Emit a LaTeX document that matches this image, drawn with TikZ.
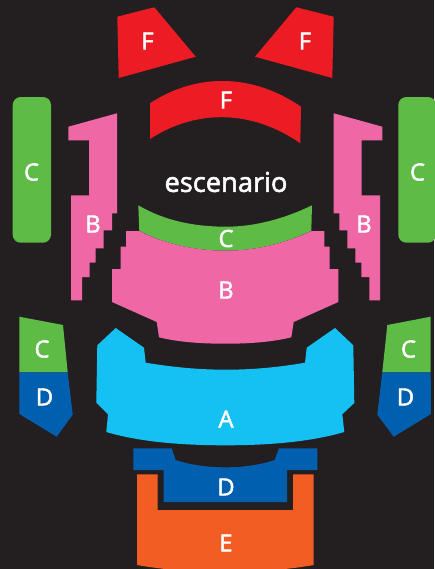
\documentclass[tikz,border=0pt]{standalone}
\usepackage{xcolor}
\usepackage{fontspec}
\setmainfont{Open Sans}[FakeBold=2]
\definecolor{hallbg}{HTML}{231F20}
\definecolor{hallred}{HTML}{ED1C24}
\definecolor{hallgreen}{HTML}{5DBB46}
\definecolor{hallpink}{HTML}{F067A6}
\definecolor{hallcyan}{HTML}{15C0F2}
\definecolor{hallblue}{HTML}{0060AF}
\definecolor{hallorange}{HTML}{F15D22}
\tikzset{
    zonelabel/.style={
        text=white,
        inner sep=0pt,
        font=\fontsize{13.5}{15}\selectfont
    },
    stagelabel/.style={
        text=white,
        inner sep=0pt,
        font=\fontsize{15.5}{17}\selectfont
    },
    zonef/.style={
        fill=hallred
    },
    zonec/.style={
        fill=hallgreen
    },
    zoneb/.style={
        fill=hallpink
    },
    zonea/.style={
        fill=hallcyan
    },
    zoned/.style={
        fill=hallblue
    },
    zonee/.style={
        fill=hallorange
    }
}

\begin{document}
\begin{tikzpicture}[x=0.02cm,y=-0.02cm]

\fill[hallbg] (0,0) rectangle (434,569);
\useasboundingbox (0,0) rectangle (434,569);

%---------------- F ----------------

\fill[zonef] (117.3,16.7)--(154.3,7.3)--(195.7,56.7)--(118.7,78)--cycle;
\fill[zonef] (296.3,7.3)--(333.7,16.7)--(332.3,78)--(255,56.7)--cycle;
\fill[zonef] (150,103.3) .. controls (196,73) and (252,73) .. (301,106.7)
    --(300.3,143.3) .. controls (252,109.5) and (196,109) .. (150,139)--cycle;

\node[zonelabel] (fleft) at (147.5,41) {F};
\node[zonelabel] (fright) at (305,41) {F};
\node[zonelabel] (fmid) at (226,100) {F};

%---------------- C ----------------

\fill[zonec,rounded corners=8*0.02cm] (12.7,97) rectangle (51,242.7);
\fill[zonec,rounded corners=8*0.02cm] (398.3,97) rectangle (436,242.7);
\fill[zonec] (138.3,205.3) .. controls (165,221) and (195,226.7) .. (226,226.7)
    .. controls (256,226.7) and (286,218) .. (312,205.3)
    --(311.3,230.7) .. controls (286,243) and (256,250.7) .. (226,250.7)
    .. controls (195,250.7) and (165,244) .. (139.3,230.7)--cycle;
\fill[zonec] (19.3,316.7)--(63,325)--(67.7,372.3)--(19.3,372.3)--cycle;
\fill[zonec] (430.7,316.7)--(387.3,325)--(382.3,372.3)--(430.7,372.3)--cycle;

\node[zonelabel] (cleft) at (31.5,172) {C};
\node[zonelabel] (cright) at (417.5,172) {C};
\node[zonelabel] (cmid) at (226,238.5) {C};
\node[zonelabel] (csideleft) at (42,349) {C};
\node[zonelabel] (csideright) at (408.5,349) {C};

%---------------- B ----------------

\fill[zoneb] (68.3,126.7)--(117,113.3)--(117,213.3)--(112,213.3)--(112,230.3)
    --(103.7,230.3)--(103.7,248.3)--(95.7,248.3)--(95.7,262.7)--(89.7,262.7)
    --(89.7,277)--(82,277)--(82,300.3)--(71,300.3)--(71,195.3)--(89,195.3)
    --(89,140.3)--(68.3,140.3)--cycle;
\fill[zoneb] (333.7,113.3)--(382.3,126.7)--(382.3,140.3)--(361.7,140.3)
    --(361.7,195.3)--(380,195.3)--(380,300.3)--(369.3,300.3)--(369.3,277)
    --(361.3,277)--(361.3,262.7)--(355.3,262.7)--(355.3,248.3)--(347.3,248.3)
    --(347.3,230.3)--(339.3,230.3)--(339.3,213.3)--(333.7,213.3)--cycle;
\fill[zoneb] (126,231)--(139.3,231) .. controls (165,244) and (195,250.7) .. (226,250.7)
    .. controls (256,250.7) and (286,243) .. (311.3,231)
    --(324.3,231)--(324.3,246.7)--(329.7,246.7)--(329.7,269)--(338.3,269)
    --(338.3,302)--(293.7,322)--(291.3,337.3)
    .. controls (272,342) and (250,343.7) .. (226,343.7)
    .. controls (200,343.7) and (178,342) .. (159,337.3)
    --(156.7,322)--(112,302)--(112,269)--(120.7,269)--(120.7,246.7)--(126,246.7)--cycle;

\node[zonelabel] (bleft) at (93,224) {B};
\node[zonelabel] (bright) at (364,224) {B};
\node[zonelabel] (bmid) at (226,290) {B};

%---------------- A ----------------

\fill[zonea] (115.7,328)--(144,347.7)--(145.7,362.7)
    .. controls (172,367) and (198,369.7) .. (226,369.7)
    .. controls (254,369.7) and (280,367) .. (305,362.7)
    --(306.7,347.7)--(335,328)--(353.3,345.3)--(354.3,403)--(342.3,414.3)--(344.3,432)
    .. controls (310,442) and (268,445.3) .. (226,445.3)
    .. controls (182,445.3) and (140,442) .. (106.3,432)
    --(108,414.3)--(96.3,402.7)--(97.3,345.3)--cycle;

\node[zonelabel] (amid) at (226,419) {A};

%---------------- D ----------------

\fill[zoned] (19.3,372.3)--(67.7,372.3)--(72.7,414.7)--(56.7,436.7)--(19.3,414)--cycle;
\fill[zoned] (382.3,372.3)--(430.7,372.3)--(431,414)--(393.7,436.7)--(377.3,414.7)--cycle;
\fill[zoned] (133.3,448.3)--(171.7,448.3)--(175.7,460)
    .. controls (190,465) and (208,467.3) .. (226,467.3)
    .. controls (243,467.3) and (260,465) .. (274.7,460)
    --(279,448.3)--(317.3,448.3)--(317.3,470)--(287,470)--(287,502)
    --(163.7,502)--(163.7,470)--(133.3,470)--cycle;

\node[zonelabel] (dleft) at (44.5,397) {D};
\node[zonelabel] (dright) at (405.5,397) {D};
\node[zonelabel] (dmid) at (226,487) {D};

%---------------- E ----------------

\fill[zonee] (137,474.3)--(157.7,474.3)--(157.7,510)--(293,510)--(293,474.3)
    --(313.7,474.3)--(313.7,565) .. controls (285,570) and (255,572) .. (226,572)
    .. controls (195,572) and (165,570) .. (137,565)--cycle;

\node[zonelabel] (emid) at (226,543) {E};

%---------------- Stage ----------------

\node[stagelabel] (stage) at (226,182) {escenario};

\end{tikzpicture}
\end{document}
